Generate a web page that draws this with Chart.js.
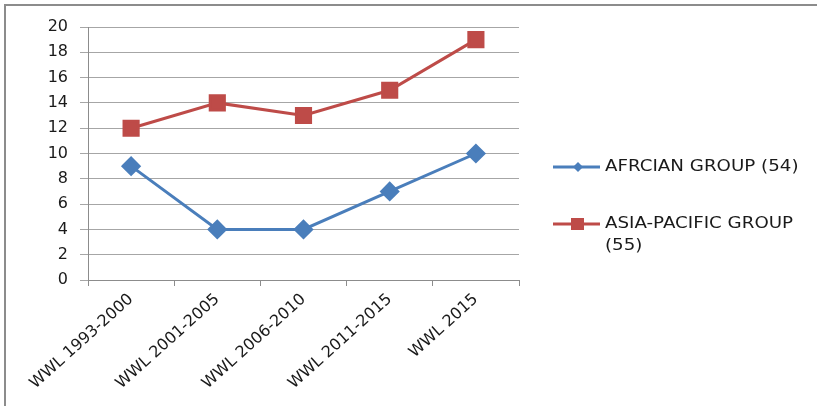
<!DOCTYPE html>
<html>
<head>
<meta charset="utf-8">
<script src="https://cdn.jsdelivr.net/npm/chart.js@4.4.0/dist/chart.umd.min.js"></script>
<style>
  html, body { margin: 0; padding: 0; background: #fff; }
  #wrap { position: relative; width: 817px; height: 406px; }
  #frame {
    position: absolute; left: 4px; top: 4px; right: -10px; bottom: -10px;
    border-left: 2px solid #8c8c8c; border-top: 2px solid #8c8c8c;
    pointer-events: none;
  }
</style>
</head>
<body>
<div id="wrap">
  <canvas id="lineChart" width="817" height="406"></canvas>
  <div id="frame"></div>
</div>
<script>
const categories = ['WWL 1993-2000', 'WWL 2001-2005', 'WWL 2006-2010', 'WWL 2011-2015', 'WWL 2015'];
const africanGroup = [9, 4, 4, 7, 10];
const asiaPacificGroup = [12, 14, 13, 15, 19];
const seriesNames = [['AFRCIAN GROUP (54)'], ['ASIA-PACIFIC GROUP', '(55)']];

const FONT = '"DejaVu Sans", sans-serif';

// legend drawn by hand so the second entry can wrap onto two lines
const sideLegend = {
  id: 'sideLegend',
  afterDraw(chart) {
    const ctx = chart.ctx;
    const rows = [167, 224];
    ctx.save();
    chart.data.datasets.forEach(function (ds, i) {
      const y = rows[i];
      ctx.strokeStyle = ds.borderColor;
      ctx.lineWidth = 3;
      ctx.beginPath();
      ctx.moveTo(553, y);
      ctx.lineTo(600, y);
      ctx.stroke();
      ctx.fillStyle = ds.backgroundColor;
      if (ds.pointStyle === 'rectRot') {
        ctx.beginPath();
        ctx.moveTo(578, y - 5);
        ctx.lineTo(583, y);
        ctx.lineTo(578, y + 5);
        ctx.lineTo(573, y);
        ctx.closePath();
        ctx.fill();
      } else {
        ctx.fillRect(571, y - 6, 13, 12);
      }
      ctx.fillStyle = '#1a1a1a';
      ctx.font = '16px ' + FONT;
      ctx.textBaseline = 'middle';
      seriesNames[i].forEach(function (line, j) {
        ctx.save();
        ctx.translate(605, y + j * 22);
        ctx.scale(1.14, 1);
        ctx.fillText(line, 0, 0);
        ctx.restore();
      });
    });
    ctx.restore();
  }
};

new Chart(document.getElementById('lineChart'), {
  type: 'line',
  data: {
    labels: categories,
    datasets: [
      {
        label: seriesNames[0].join(' '),
        data: africanGroup,
        borderColor: '#4a7ebb',
        backgroundColor: '#4a7ebb',
        borderWidth: 3,
        pointStyle: 'rectRot',
        pointRadius: 8,
        pointHoverRadius: 8,
        tension: 0
      },
      {
        label: seriesNames[1].join(' '),
        data: asiaPacificGroup,
        borderColor: '#be4b48',
        backgroundColor: '#be4b48',
        borderWidth: 3,
        pointStyle: 'rect',
        pointRadius: 10,
        pointHoverRadius: 10,
        tension: 0
      }
    ]
  },
  options: {
    responsive: false,
    animation: false,
    layout: { padding: { top: 27, right: 298, left: 0, bottom: 0 } },
    plugins: {
      legend: { display: false },
      tooltip: { enabled: false }
    },
    scales: {
      x: {
        offset: true,
        grid: { offset: true, drawOnChartArea: false, color: '#8c8c8c', tickLength: 6 },
        border: { color: '#8c8c8c' },
        ticks: {
          minRotation: 42, maxRotation: 42, padding: 4,
          color: '#1a1a1a', font: { family: FONT, size: 16 }
        },
        afterFit(scale) { scale.height = 126; }
      },
      y: {
        min: 0, max: 20,
        grid: { color: '#a6a6a6', tickLength: 8 },
        border: { color: '#8c8c8c' },
        ticks: {
          stepSize: 2, padding: 12,
          color: '#1a1a1a', font: { family: FONT, size: 16 }
        },
        afterFit(scale) { scale.width = 88; }
      }
    }
  },
  plugins: [sideLegend]
});
</script>
</body>
</html>
